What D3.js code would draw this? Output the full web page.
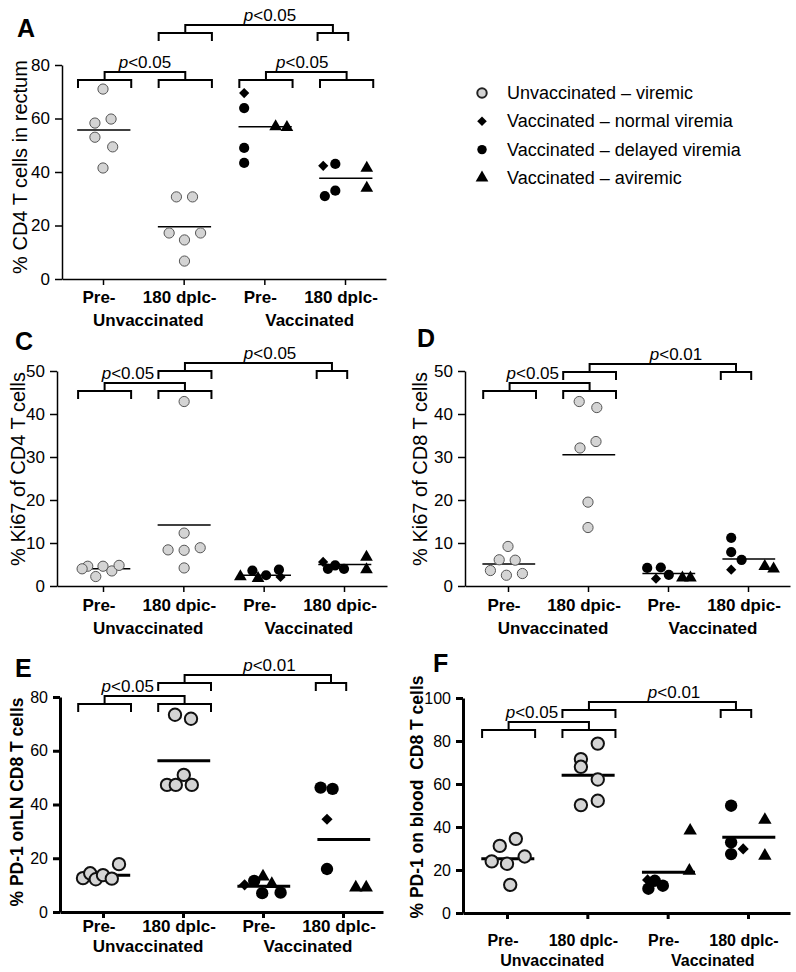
<!DOCTYPE html>
<html><head><meta charset="utf-8">
<script src="https://cdn.jsdelivr.net/npm/d3@7"></script>
<style>
body{margin:0;background:#fff}
svg{display:block}
text{font-family:"Liberation Sans",Arial,Helvetica,sans-serif;fill:#000}
</style>
</head><body>
<svg id="chart" width="796" height="972"></svg>
<script>
// ---------- data ----------
const legendLabels = ["Unvaccinated – viremic", "Vaccinated – normal viremia", "Vaccinated – delayed viremia", "Vaccinated – aviremic"];
const legendTypes = ["u", "n", "d", "a"];
const groupLabels = ["Unvaccinated", "Vaccinated"];
const catLabelsDplc = ["Pre-", "180 dplc-", "Pre-", "180 dplc-"];
const catLabelsDpic = ["Pre-", "180 dpic-", "Pre-", "180 dpic-"];

// points: [position on category axis, value, group]
const pointsA = [
  [0.0,71,"u"],[-0.1,58.3,"u"],[0.1,59.8,"u"],[-0.1,53,"u"],[0.12,49.4,"u"],[0.0,41.5,"u"],
  [0.91,30.7,"u"],[1.11,30.7,"u"],[0.82,17.2,"u"],[1.21,17.2,"u"],[1.01,14.6,"u"],[1.01,6.7,"u"],
  [1.75,69.5,"n"],[1.75,63.9,"d"],[1.75,49,"d"],[1.75,43.4,"d"],[2.14,57,"a"],[2.28,56.7,"a"],
  [2.73,42.3,"n"],[2.88,43,"d"],[2.75,31,"d"],[2.88,33,"d"],[3.27,41.5,"a"],[3.27,34,"a"]
];
const meansA = [55.7, 19.5, 56.9, 37.7];

const pointsC = [
  [-0.19,4.6,"u"],[-0.26,4.0,"u"],[-0.09,2.2,"u"],[0.0,4.6,"u"],[0.11,3.5,"u"],[0.2,4.8,"u"],
  [1.01,42.9,"u"],[1.01,12.3,"u"],[0.81,8.4,"u"],[1.01,8.3,"u"],[1.21,8.9,"u"],[1.01,4.2,"u"],
  [1.71,2.2,"a"],[1.86,3.6,"d"],[1.93,1.8,"a"],[2.03,2.5,"d"],[2.19,3.8,"d"],[2.21,2.1,"n"],
  [2.74,5.6,"n"],[2.8,4.0,"d"],[2.89,4.8,"d"],[3.0,4.0,"d"],[3.28,6.7,"a"],[3.28,3.8,"a"]
];
const meansC = [4.0, 14.2, 2.5, 5.0];

const pointsD = [
  [0.0,9.2,"u"],[-0.11,6.1,"u"],[0.09,6.0,"u"],[-0.22,3.6,"u"],[-0.02,2.5,"u"],[0.18,2.9,"u"],
  [0.89,42.9,"u"],[1.11,41.5,"u"],[1.1,33.6,"u"],[0.9,32.1,"u"],[1.0,19.5,"u"],[1.0,13.6,"u"],
  [1.74,4.2,"d"],[1.91,4.3,"d"],[1.85,1.7,"n"],[2.01,2.6,"d"],[2.18,1.9,"a"],[2.28,1.9,"a"],
  [2.79,11.2,"d"],[2.79,7.9,"d"],[2.92,6.1,"d"],[2.79,3.8,"n"],[3.21,4.6,"a"],[3.32,4.0,"a"]
];
const meansD = [5.1, 30.5, 2.9, 6.3];

const pointsE = [
  [-0.25,12.6,"u"],[-0.16,14.4,"u"],[-0.09,12.2,"u"],[0.0,13.7,"u"],[0.11,12.4,"u"],[0.2,17.8,"u"],
  [0.9,73.4,"u"],[1.1,71.9,"u"],[1.01,51,"u"],[0.8,47.3,"u"],[0.91,47.3,"u"],[1.11,47.3,"u"],
  [1.77,10.1,"n"],[1.89,11.6,"d"],[2.0,13.2,"a"],[1.99,7.0,"d"],[2.11,10.4,"a"],[2.22,7.2,"d"],
  [2.72,46.3,"d"],[2.87,45.8,"d"],[2.8,34.5,"n"],[2.8,16,"d"],[3.16,9.1,"a"],[3.29,9.1,"a"]
];
const meansE = [13.7, 56.3, 9.6, 27];

const pointsF = [
  [0.11,34.5,"u"],[-0.09,31.2,"u"],[-0.19,24,"u"],[0.0,22.9,"u"],[0.22,26.3,"u"],[0.04,13.1,"u"],
  [1.13,78.8,"u"],[0.92,71.6,"u"],[0.92,68,"u"],[1.13,62.1,"u"],[0.92,50.2,"u"],[1.13,52.2,"u"],
  [1.75,15.4,"n"],[1.84,15.0,"d"],[1.76,11.3,"d"],[1.94,12.7,"d"],[2.27,19.6,"a"],[2.28,38.3,"a"],
  [2.79,49.9,"d"],[2.79,32.9,"d"],[2.79,27.4,"d"],[2.94,29.8,"n"],[3.21,43.3,"a"],[3.21,26.6,"a"]
];
const meansF = [25.2, 64.1, 19.0, 35.2];

// comparisons: [category a, category b, p label]
const compsA = [[0,1,"<0.05"],[2,3,"<0.05"],[1,3,"<0.05"]];
const compsC = [[0,1,"<0.05"],[1,3,"<0.05"]];
const compsD = [[0,1,"<0.05"],[1,3,"<0.01"]];
const compsE = [[0,1,"<0.05"],[1,3,"<0.01"]];
const compsF = [[0,1,"<0.05"],[1,3,"<0.01"]];

// ---------- drawing ----------
const svg = d3.select("#chart");

function symbolPath(type, big) {
  const s = d3.symbol();
  if (type === "u" || type === "d") return s.type(d3.symbolCircle).size(big ? 120 : 82)();
  if (type === "n") return s.type(d3.symbolSquare).size(big ? 62 : 52)();
  return s.type(d3.symbolTriangle).size(big ? 78 : 70)();
}
function drawMarker(g, type, cx, cy, big) {
  const p = g.append("path").attr("d", symbolPath(type, big))
    .attr("transform", `translate(${cx},${cy})` + (type === "n" ? " rotate(45)" : ""));
  if (type === "u") {
    p.attr("fill", "#d4d4d4").attr("stroke", big ? "#111" : "#555").attr("stroke-width", big ? 2 : 1);
  } else {
    p.attr("fill", "#000");
  }
}

function pText(g, x, y, label, anchor) {
  const t = g.append("text").attr("x", x).attr("y", y).attr("text-anchor", anchor || "middle")
    .attr("font-size", 17);
  t.append("tspan").attr("font-style", "italic").text("p");
  t.append("tspan").text(label);
}

function drawPanel(cfg) {
  const g = svg.append("g");
  const x = d3.scaleLinear().domain([0, 3]).range([cfg.c0, cfg.c3]);
  const y = d3.scaleLinear().domain([0, cfg.ymax]).range([cfg.y0, cfg.yTop]);
  const lw = cfg.big ? 3 : 1.5;

  // y axis
  const ya = g.append("g").attr("transform", `translate(${cfg.axX},0)`)
    .call(d3.axisLeft(y).tickValues(cfg.yticks).tickSize(7).tickSizeOuter(0).tickPadding(5).tickFormat(d3.format("d")));
  ya.select(".domain").attr("stroke", "#000").attr("stroke-width", lw);
  ya.selectAll(".tick line").attr("stroke", "#000").attr("stroke-width", lw);
  ya.selectAll(".tick text").attr("font-size", cfg.tickFont).attr("font-family", "Liberation Sans, Arial, sans-serif").attr("fill", "#000");

  // x axis
  const xa = d3.scaleLinear().domain([x.invert(cfg.axX), x.invert(cfg.axEnd)]).range([cfg.axX, cfg.axEnd]);
  const xg = g.append("g").attr("transform", `translate(0,${cfg.y0})`)
    .call(d3.axisBottom(xa).tickValues([0, 1, 2, 3]).tickSize(6).tickSizeOuter(0).tickFormat(""));
  xg.select(".domain").attr("stroke", "#000").attr("stroke-width", lw);
  xg.selectAll(".tick line").attr("stroke", "#000").attr("stroke-width", lw);

  // category labels
  cfg.cats.forEach((c, i) => {
    g.append("text").attr("x", x(i) - 4).attr("y", cfg.catY1).attr("text-anchor", "middle")
      .attr("font-size", cfg.catFont).attr("font-weight", "bold").text(c);
  });
  groupLabels.forEach((c, i) => {
    g.append("text").attr("x", x(i * 2 + 0.5) + 5).attr("y", cfg.catY2).attr("text-anchor", "middle")
      .attr("font-size", cfg.catFont).attr("font-weight", "bold").text(c);
  });

  // y label
  g.append("text").attr("transform", `translate(${cfg.lx},${cfg.ly}) rotate(-90)`)
    .attr("text-anchor", "middle").attr("font-size", cfg.lsize)
    .attr("font-weight", cfg.lbold ? "bold" : "normal").style("white-space", "pre").text(cfg.ylabel);

  // panel letter
  g.append("text").attr("x", cfg.letterX).attr("y", cfg.letterY).attr("font-size", 25)
    .attr("font-weight", "bold").text(cfg.letter);

  // mean lines
  cfg.means.forEach((m, i) => {
    g.append("line").attr("x1", x(i - 0.32)).attr("x2", x(i + 0.34))
      .attr("y1", y(m)).attr("y2", y(m)).attr("stroke", "#000").attr("stroke-width", lw);
  });

  // points
  cfg.points.forEach(p => drawMarker(g, p[2], x(p[0]), y(p[1]), cfg.big));

  // brackets
  const drop = 8, rise = 8;
  const br = (c, yb, narrow) => {
    const a = narrow ? x(c - 0.34) : x(c - 0.31);
    const b = narrow ? x(c + 0.04) : x(c + 0.35);
    g.append("path").attr("d", `M${a},${yb + drop}V${yb}H${b}V${yb + drop}`)
      .attr("fill", "none").attr("stroke", "#000").attr("stroke-width", 2);
    return (a + b) / 2;
  };
  cfg.comps.forEach((cp, k) => {
    const upper = (cp[1] - cp[0]) > 1;
    const yb = upper ? cfg.upY : cfg.lowY;
    const m1 = br(cp[0], yb, false);
    const m2 = br(cp[1], yb, upper);
    const yc = yb - rise;
    g.append("path").attr("d", `M${m1},${yb}V${yc}H${m2}V${yb}`)
      .attr("fill", "none").attr("stroke", "#000").attr("stroke-width", 2);
    pText(g, x(cfg.textPos[k]), yc - 4, cp[2]);
  });
}

drawPanel({letter:"A", letterX:17, letterY:37, c0:103, c3:345, y0:279, yTop:65, ymax:80, axX:62, axEnd:386,
  yticks:[0,20,40,60,80], tickFont:17, ylabel:"% CD4 T cells in rectum", lx:27, ly:167, lsize:20, lbold:false,
  cats:catLabelsDplc, catFont:17, catY1:303, catY2:326, means:meansA, points:pointsA, comps:compsA,
  lowY:80, upY:33, textPos:[0.52, 2.47, 2.07], big:false});

drawPanel({letter:"C", letterX:15, letterY:350, c0:103, c3:344, y0:586, yTop:371, ymax:50, axX:57, axEnd:387,
  yticks:[0,10,20,30,40,50], tickFont:17, ylabel:"% Ki67 of CD4 T cells", lx:25, ly:469, lsize:20, lbold:false,
  cats:catLabelsDpic, catFont:17, catY1:611, catY2:634, means:meansC, points:pointsC, comps:compsC,
  lowY:391, upY:371, textPos:[0.31, 2.08], big:false});

drawPanel({letter:"D", letterX:417, letterY:347, c0:508, c3:748, y0:586, yTop:371, ymax:50, axX:465, axEnd:790,
  yticks:[0,10,20,30,40,50], tickFont:17, ylabel:"% Ki67 of CD8 T cells", lx:427, ly:469, lsize:20, lbold:false,
  cats:catLabelsDpic, catFont:17, catY1:611, catY2:634, means:meansD, points:pointsD, comps:compsD,
  lowY:391, upY:372, textPos:[0.31, 2.1], big:false});

drawPanel({letter:"E", letterX:15, letterY:677, c0:103, c3:343, y0:912, yTop:697, ymax:80, axX:60, axEnd:383,
  yticks:[0,20,40,60,80], tickFont:16, ylabel:"% PD-1 onLN CD8 T cells", lx:23, ly:802, lsize:17.5, lbold:true,
  cats:catLabelsDplc, catFont:17, catY1:932, catY2:952, means:meansE, points:pointsE, comps:compsE,
  lowY:704, upY:683, textPos:[0.31, 2.08], big:true});

drawPanel({letter:"F", letterX:433, letterY:672, c0:507, c3:748, y0:913, yTop:698, ymax:100, axX:463, axEnd:790,
  yticks:[0,20,40,60,80,100], tickFont:16, ylabel:"% PD-1 on blood  CD8 T cells", lx:423, ly:797, lsize:17.5, lbold:true,
  cats:catLabelsDplc, catFont:16, catY1:946, catY2:966, means:meansF, points:pointsF, comps:compsF,
  lowY:730, upY:710, textPos:[0.31, 2.08], big:true});

// legend
const lg = svg.append("g");
legendLabels.forEach((l, i) => {
  const yy = 93 + i * 28.3;
  const t = legendTypes[i];
  const p = lg.append("path").attr("d", d3.symbol().type(t === "n" ? d3.symbolSquare : (t === "a" ? d3.symbolTriangle : d3.symbolCircle))
      .size(t === "n" ? 46 : (t === "a" ? 70 : 70))())
    .attr("transform", `translate(482,${yy})` + (t === "n" ? " rotate(45)" : ""));
  if (t === "u") p.attr("fill", "#d4d4d4").attr("stroke", "#222").attr("stroke-width", 2);
  else p.attr("fill", "#000");
  lg.append("text").attr("x", 507).attr("y", yy + 6).attr("font-size", 18).text(l);
});
</script>
</body></html>
